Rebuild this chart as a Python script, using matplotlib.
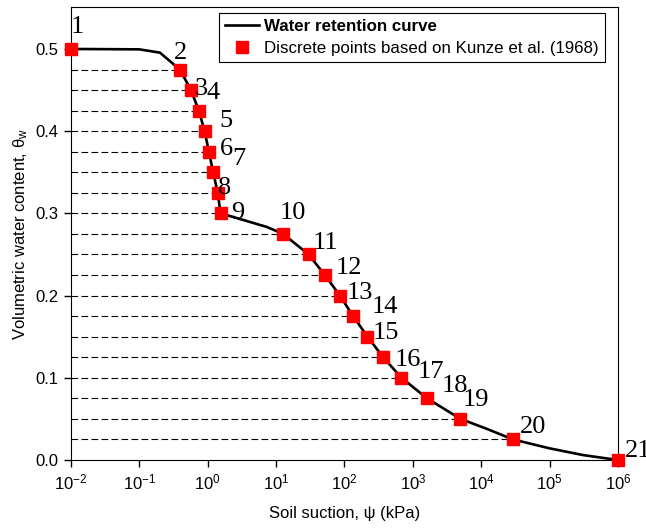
import matplotlib
matplotlib.use('Agg')
import matplotlib.pyplot as plt

plt.rcParams['font.family'] = 'Liberation Sans'
plt.rcParams['mathtext.fontset'] = 'custom'
plt.rcParams['mathtext.rm'] = 'Liberation Sans'
plt.rcParams['mathtext.it'] = 'Liberation Sans:italic'
plt.rcParams['mathtext.bf'] = 'Liberation Sans:bold'

# discrete points (Kunze et al. 1968): suction in kPa, volumetric water content
suction = [0.01, 0.39, 0.57, 0.74, 0.90, 1.04, 1.20, 1.40, 1.54, 12.7, 29.9,
           51.6, 85.7, 134, 217, 368, 682, 1617, 4975, 29200, 1.0e6]
theta = [0.500, 0.475, 0.450, 0.425, 0.400, 0.375, 0.350, 0.325, 0.300,
         0.275, 0.250, 0.225, 0.200, 0.175, 0.150, 0.125, 0.100, 0.075,
         0.050, 0.025, 0.000]
point_ids = [str(i) for i in range(1, 22)]

# retention curve
curve_suction = [0.01, 0.1, 0.2, 0.39, 0.57, 0.74, 0.90, 1.04, 1.20, 1.40,
                 1.54, 2.33, 7.3, 12.7, 29.9, 51.6, 85.7, 134, 217, 368, 682,
                 1617, 4975, 12000, 29200, 1.0e5, 3.05e5, 1.0e6]
curve_theta = [0.500, 0.4995, 0.4955, 0.475, 0.450, 0.425, 0.400, 0.375,
               0.350, 0.325, 0.300, 0.2957, 0.2835, 0.275, 0.250, 0.225,
               0.200, 0.175, 0.150, 0.125, 0.100, 0.075, 0.050, 0.038,
               0.025, 0.0142, 0.0061, 0.000]

# label offsets from each marker, in pixels
label_offsets = [(0, 16), (-6, 11), (4, -5), (8, 12), (15, 4), (11, -3),
                 (19, 7), (0, -1), (11, -6), (-4, 15), (4, 5), (11, 1),
                 (7, -3), (19, 3), (5, -2), (12, -9), (16, 0), (15, 6),
                 (2, 13), (7, 6), (7, 3)]

fig = plt.figure(figsize=(6.46, 5.32), dpi=100)
ax = fig.add_axes([0.1099, 0.1353, 0.8467, 0.8515])

for s, t in zip(suction[1:-1], theta[1:-1]):
    ax.plot([0.01, s], [t, t], color='black', lw=0.8, dashes=(6, 3), zorder=1)

ax.plot(curve_suction, curve_theta, color='black', lw=1.9, zorder=2,
        label='Water retention curve')
ax.plot(suction, theta, 's', color='#ff0000', ms=8.6, zorder=3, clip_on=False,
        label='Discrete points based on Kunze et al. (1968)')

for s, t, name, off in zip(suction, theta, point_ids, label_offsets):
    ax.annotate(name, (s, t), xytext=off, textcoords='offset pixels',
                ha='left', va='baseline', fontsize=19,
                family='Liberation Serif', annotation_clip=False)

ax.set_xscale('log')
ax.set_xlim(1e-2, 1e6)
ax.set_ylim(0, 0.551)
ax.set_xticks([10.0 ** k for k in range(-2, 7)])
ax.set_xticklabels([r'$10^{\mathrm{-%d}}$' % -k if k < 0 else r'$10^{%d}$' % k
                    for k in range(-2, 7)])
ax.xaxis.set_minor_locator(matplotlib.ticker.NullLocator())
ax.set_yticks([0.0, 0.1, 0.2, 0.3, 0.4, 0.5])
ax.set_yticklabels(['0.0', '0.1', '0.2', '0.3', '0.4', '0.5'])
ax.tick_params(direction='out', length=5, width=1, labelsize=12, pad=4)

ax.set_xlabel('Soil suction, ψ (kPa)', fontsize=12, labelpad=10)
ax.set_ylabel('Volumetric water content, θ$_\\mathrm{w}$', fontsize=12,
              labelpad=4)

leg = ax.legend(loc='upper right', bbox_to_anchor=(0.976, 0.987),
                borderaxespad=0, fontsize=12.2, frameon=True, fancybox=False,
                framealpha=1, edgecolor='black', handlelength=2.0,
                handletextpad=0.3, labelspacing=0.4, borderpad=0.35)
leg.get_frame().set_linewidth(0.8)
leg.get_texts()[0].set_fontweight('bold')

fig.savefig('out.png', dpi=100)
